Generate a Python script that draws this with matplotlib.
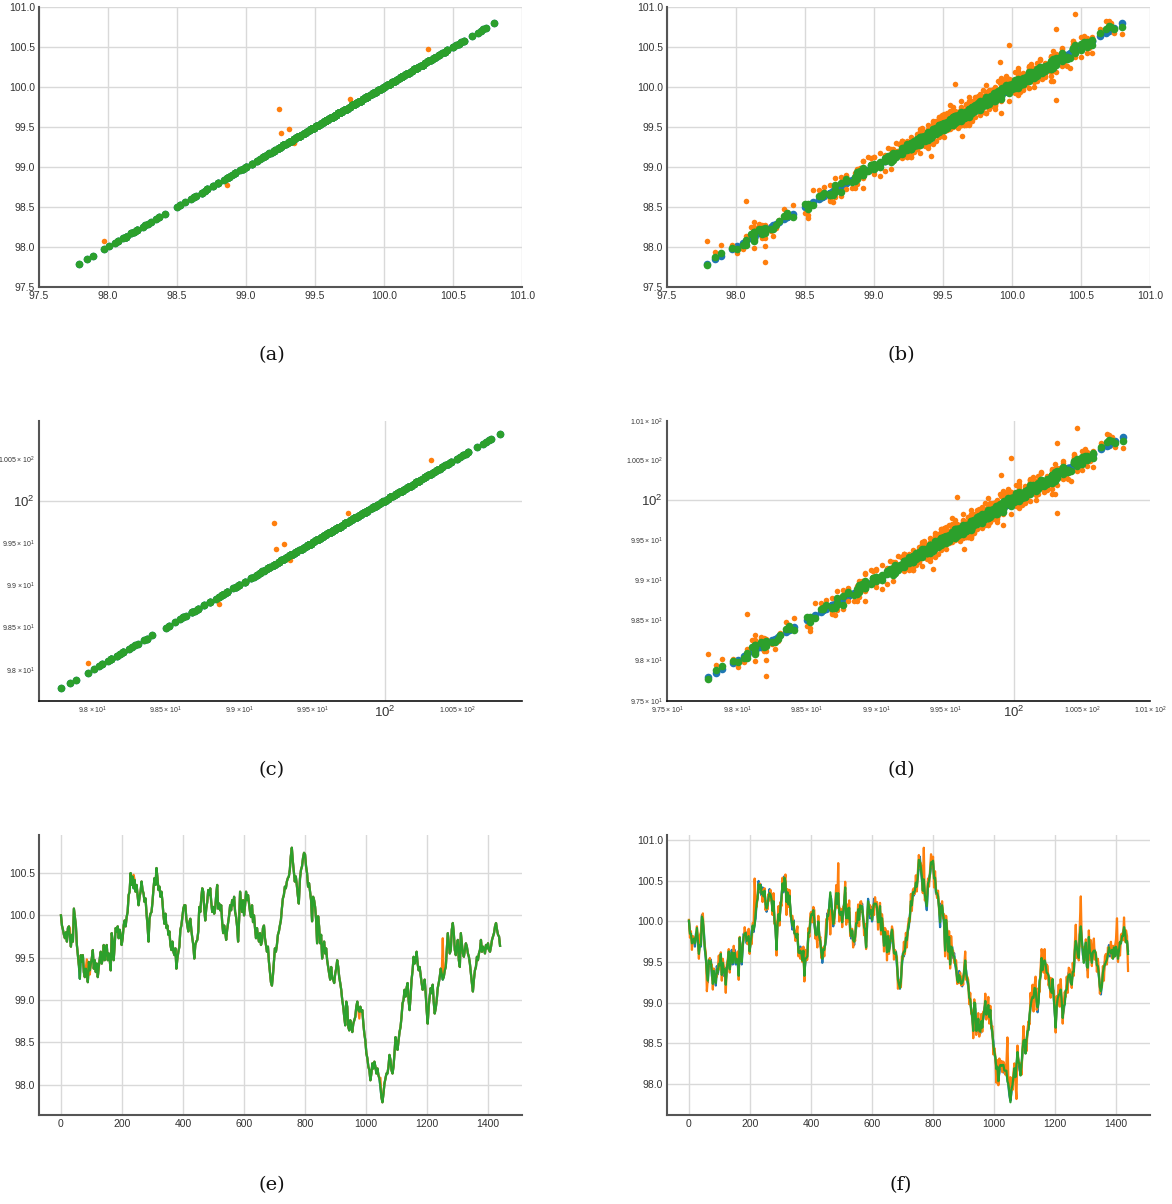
import numpy as np
import matplotlib
matplotlib.use("Agg")
import matplotlib.pyplot as plt
from matplotlib import ticker as mticker

# ---------------- data ----------------
# true series, part 1 (t = 0 .. 780)
true_seg1 = [
    100.00, 99.88, 99.83, 99.77, 99.73, 99.80, 99.69, 99.85, 99.87, 99.75,
    99.63, 99.77, 99.69, 100.08, 99.98, 99.88, 99.65, 99.53, 99.41, 99.25,
    99.53, 99.45, 99.53, 99.33, 99.27, 99.37, 99.31, 99.21, 99.45, 99.35,
    99.43, 99.49, 99.59, 99.37, 99.47, 99.33, 99.43, 99.27, 99.39, 99.49,
    99.57, 99.43, 99.49, 99.65, 99.47, 99.57, 99.65, 99.47, 99.55, 99.47,
    99.35, 99.79, 99.69, 99.47, 99.67, 99.85, 99.81, 99.87, 99.73, 99.83,
    99.77, 99.65, 99.73, 99.88, 99.94, 99.87, 99.98, 100.04, 100.24, 100.28,
    100.50, 100.36, 100.46, 100.32, 100.42, 100.28, 100.36, 100.24, 100.12, 100.22,
    100.28, 100.40, 100.30, 100.26, 100.16, 100.20, 100.02, 99.88, 99.69, 99.96,
    100.02, 100.04, 100.16, 100.32, 100.44, 100.36, 100.56, 100.44, 100.30, 100.34,
    100.22, 100.28, 100.16, 100.00, 99.90, 100.02, 99.85, 99.88, 99.77, 99.81,
    99.65, 99.59, 99.69, 99.57, 99.53, 99.61, 99.37, 99.49, 99.57, 99.63,
    99.83, 99.88, 99.98, 100.08, 100.12, 100.12, 99.96, 99.88, 99.81, 99.92,
    99.96, 99.83, 99.73, 99.65, 99.49, 99.65, 99.69, 99.71, 99.81, 100.10,
    100.04, 100.20, 100.32, 100.28, 100.08, 99.94, 100.08, 100.16, 100.30, 100.24,
    100.32, 100.16, 100.04, 100.10, 100.02, 100.08, 100.24, 100.36, 100.08, 100.14,
    100.06, 100.12, 99.92, 99.79, 99.88, 99.81, 99.71, 99.83, 99.92, 100.00,
    100.12, 100.06, 100.18, 100.12, 100.22, 100.04, 99.98, 99.87, 99.69, 99.94,
    100.28, 100.14, 100.04, 100.18, 100.00, 100.12, 100.28, 100.18, 100.24, 100.14,
    100.04, 99.98, 100.12, 99.92, 100.00, 99.85, 99.73, 99.85, 99.75, 99.69,
    99.79, 99.65, 99.69, 99.85, 99.88, 99.73, 99.65, 99.57, 99.63, 99.45,
    99.33, 99.21, 99.17, 99.29, 99.45, 99.61, 99.57, 99.65, 99.77, 99.81,
    99.88, 99.94, 100.08, 100.20, 100.24, 100.34, 100.32, 100.40, 100.44, 100.46,
    100.54, 100.70, 100.80, 100.64, 100.52, 100.40, 100.46, 100.36, 100.24, 100.14,
]
# true series, part 2 (t = 784 .. 1440)
true_seg2 = [
    100.44, 100.54, 100.58, 100.68, 100.74, 100.72, 100.58, 100.50, 100.34, 100.38,
    100.28, 100.18, 99.93, 100.22, 100.18, 100.10, 99.95, 99.67, 99.99, 99.87,
    99.67, 99.77, 99.49, 99.63, 99.69, 99.55, 99.61, 99.47, 99.39, 99.31,
    99.24, 99.39, 99.27, 99.24, 99.20, 99.31, 99.37, 99.47, 99.39, 99.27,
    99.20, 99.12, 99.00, 98.92, 98.80, 98.70, 98.98, 98.92, 98.68, 98.64,
    98.76, 98.68, 98.62, 98.72, 98.76, 98.80, 98.92, 98.98, 98.88, 98.86,
    98.92, 98.86, 98.88, 98.72, 98.60, 98.52, 98.37, 98.31, 98.21, 98.17,
    98.05, 98.13, 98.25, 98.19, 98.27, 98.21, 98.13, 98.19, 98.11, 98.07,
    97.97, 97.85, 97.79, 97.89, 98.01, 98.07, 98.13, 98.13, 98.21, 98.35,
    98.29, 98.17, 98.13, 98.21, 98.37, 98.56, 98.50, 98.41, 98.52, 98.62,
    98.68, 98.80, 98.96, 99.00, 99.12, 99.04, 99.14, 99.20, 99.00, 98.88,
    99.04, 99.24, 99.35, 99.51, 99.43, 99.47, 99.57, 99.43, 99.35, 99.39,
    99.29, 99.20, 99.12, 99.16, 99.24, 99.08, 98.88, 98.72, 98.92, 99.04,
    99.14, 99.08, 99.18, 98.98, 98.84, 98.90, 99.00, 99.14, 99.20, 99.27,
    99.37, 99.31, 99.24, 99.27, 99.35, 99.39, 99.59, 99.79, 99.67, 99.55,
    99.59, 99.83, 99.91, 99.79, 99.59, 99.53, 99.63, 99.71, 99.47, 99.39,
    99.79, 99.67, 99.55, 99.51, 99.59, 99.67, 99.63, 99.55, 99.51, 99.43,
    99.31, 99.20, 99.10, 99.24, 99.35, 99.39, 99.51, 99.47, 99.55, 99.59,
    99.71, 99.57, 99.63, 99.61, 99.55, 99.65, 99.61, 99.67, 99.59, 99.57,
    99.63, 99.71, 99.75, 99.79, 99.87, 99.91, 99.83, 99.77, 99.75, 99.64,
]
seg_times = [0, 780, 784, 1440]

# model A (panels a, c, e): orange deviates only at a few points
orange_a_idx = [9, 19, 26, 29, 73, 299, 320, 382]
orange_a_dev = [0.10, 0.18, 0.17, -0.05, 0.16, -0.08, 0.11, 0.49]

# model B (panels b, d, f): deviations in hundredths
orange_b_dev1 = [
    2, -8, 5, -12, 9, -4, 11, -6, 7, 3, -9, 6, 18, -5, 12, -10, 4, 8, -27, 6,
    -3, 10, -7, 14, -11, 5, -2, 9, -13, 6, 15, -8, 3, -10, 7, 12, -5, -15, 8, 4,
    9, -6, 11, -9, 5, 13, -12, 7, -4, 16, -7, 2, -14, 10, 6, -8, 12, -3, 9, -11,
    14, -5, 8, -16, 4, 10, 55, 20, -6, 3, -12, 11, -4, 7, -18, 9, 5, -10, 13, -7,
    6, -14, 9, 3, -8, 15, -5, 12, -11, 4, 17, -9, 8, -13, 10, 5, -7, 14, -22, 6,
    -4, 11, -10, 7, 17, -6, 3, -12, 9, 13, -8, 5, -15, 10, -3, 8, -11, 16, -5, -10,
    9, -7, 12, 4, -13, 6, 18, -9, 5, -24, 11, -6, 8, -10, 14, 3, -12, 7, 22, -8,
    10, -5, -48, -14, 6, 9, -11, 4, 15, -7, 40, -16, 12, 5, -9, 10, -4, 13, -12, 7,
    -6, 14, -10, 8, 3, -13, 11, -7, 19, -5, 9, -12, 6, 13, -8, 4, -15, 10, -3, 12,
    -9, 7, 16, -11, 5, 8, -20, 12, -6, 10, -14, 6, 11, -8, 9, 11, -10, 7, 14, -17,
    9, -5, 13, -9, 6, 15, -12, 8, -4, 11, -16, 7, 3, -10, 12, -7, 18, -5, 9, -13,
    6, 10, -8, 14, -11, 5, 9, -6, 13, -9, 7, 12, -14, 8, 12, -5, 45, -10, 6, 15,
]
orange_b_dev2 = [
    9, -11, 4, 15, -7, 8, -16, 12, 5, -9, 10, -4, 13, -12, 7, -6, 14, -10, 8, 3,
    -13, 11, -7, 19, -5, 9, -12, 6, 13, -8, 4, -15, 10, -3, 12, -9, 7, 16, -11, 5,
    8, -14, 12, -6, 10, -14, 6, -18, -8, 11, 11, -10, 7, 14, -12, 9, -5, 13, -9, 6,
    15, -12, 8, -4, 11, -16, 7, 3, -20, 12, -7, 18, -5, 9, -13, 6, 10, -8, 14, 50,
    5, 9, 29, 13, -9, 7, 12, -14, -40, 12, -5, 9, 10, -10, 6, 15, -8, 11, -12, 5,
    9, -7, 16, -4, 10, -15, 7, 12, -9, 6, 14, -11, 8, 15, 13, -10, 9, -14, 12, 6,
    -8, 11, -6, 14, -12, 7, 10, -9, 16, -5, 8, -13, 11, 6, -10, 9, 13, -7, 12, -15,
    6, 10, 8, -9, 14, -6, 11, 17, -12, 8, -7, 13, 40, -10, 9, 15, -11, 7, 12, -8,
    10, -14, 22, -6, 9, 12, -10, 7, -13, 11, 8, -9, 14, -5, 10, -12, 6, 13, -8, 9,
    -11, 7, 12, -6, 15, -9, 8, 11, 45, -7, 10, -13, 9, 6, -10, 14, -8, 12, 7, -25,
]
green_b_dev1 = [
    1, -3, 2, -4, 3, -1, 4, -2, 5, 1, -3, -6, 2, -2, 4, -3, 1, 3, -5, 2,
    -1, 3, -2, 5, -4, 2, -1, 3, -4, 2, 5, -3, 1, -3, 2, 4, -2, -5, 3, 1,
    6, -2, 4, -3, 2, 4, -4, 2, -1, 5, -2, 1, -5, 3, 2, -3, 4, -1, 3, -4,
    5, -2, 3, -5, 1, 3, -3, 6, -2, 1, -4, 4, -1, 2, -6, 3, 2, -3, 4, -2,
    2, -5, 3, 1, -3, 5, -2, 4, -4, 1, 7, -3, 3, -4, 3, 2, -2, 5, -6, 2,
    -1, 4, -3, 2, 5, -2, 1, -4, 3, 4, -3, 2, -5, 3, -1, 3, -4, 5, -2, -6,
    3, -2, 4, 1, -4, 2, 6, -3, 2, -7, 4, -2, 3, -3, 5, 1, -4, 2, 6, -3,
    3, -2, 4, -5, 2, 3, -4, 1, 5, -2, 3, -5, 4, 2, -3, 3, -1, 6, -4, 2,
    -2, 5, -3, 3, 1, -4, 4, -2, 6, -2, 3, -4, 2, 4, -3, 1, -5, 3, -1, 4,
    -3, 2, 5, -4, 2, 3, -6, 4, -2, 3, -5, 2, 7, -3, 4, 4, -3, 2, 5, -7,
    3, -2, 4, -3, 2, 5, -4, 3, -1, 4, -5, 2, 1, -3, 4, -2, 6, -2, 3, -4,
    2, 3, -3, 5, -4, 2, 3, -2, 4, -3, 2, 6, -5, 3, 4, -2, 6, -3, 2, 5,
]
green_b_dev2 = [
    3, -4, 1, 5, -2, 3, -5, 4, 2, -3, 3, -1, 6, -4, 2, -2, 5, -3, 3, 1,
    -4, 4, -2, 6, -2, 3, -4, 2, 4, -3, 1, -5, 3, -1, 4, -3, 2, 5, -4, 2,
    3, -6, 4, -2, 3, -5, 2, 7, -3, 4, 4, -3, 2, 5, -7, 3, -2, 4, -3, 2,
    5, -4, 3, -1, 4, -5, 2, 1, -3, 4, -2, 6, -2, 3, -4, 2, 3, -3, 5, -4,
    2, 3, -2, 4, -3, 2, 6, -5, 3, 4, -2, 6, -3, 2, 5, -3, 4, -4, 2, 3,
    -2, 5, -1, 3, -5, 2, 4, -3, 2, 6, -4, 3, -2, 4, -3, 3, -5, 4, 2, -3,
    4, -2, 3, -4, 5, -1, 2, -3, 4, 1, -5, 3, -2, 4, -3, 5, -2, 1, -4, 3,
    -3, 4, 2, -5, 3, -1, 5, -3, 2, 4, -4, 1, 3, -2, 5, -4, 2, 3, -3, 4,
    2, -4, 5, -2, 3, -3, 1, 4, -5, 2, 3, -1, 4, -3, 2, 5, -4, 3, -2, 1,
    -3, 5, -2, 4, -1, 3, -4, 2, 5, -3, 1, 4, -2, 3, -5, 2, 4, -3, 1, -4,
]

log_ticks = [97.5, 98.0, 98.5, 99.0, 99.5, 100.5, 101.0]
lin_ticks = [97.5, 98.0, 98.5, 99.0, 99.5, 100.0, 100.5, 101.0]
time_ticks = [0, 200, 400, 600, 800, 1000, 1200, 1400]
captions = ["(a)", "(b)", "(c)", "(d)", "(e)", "(f)"]

# ---------------- derived series ----------------
n1, n2 = len(true_seg1), len(true_seg2)
T = np.array(true_seg1 + true_seg2)
t = np.concatenate([np.linspace(seg_times[0], seg_times[1], n1),
                    np.linspace(seg_times[2], seg_times[3], n2)])
orange_a = T.copy()
orange_a[orange_a_idx] += np.array(orange_a_dev)
green_a = T.copy()
orange_b = T + np.array(orange_b_dev1[:n1] + orange_b_dev2[:n2]) / 100.0
green_b = T + np.array(green_b_dev1[:n1] + green_b_dev2[:n2]) / 100.0

BLUE, ORANGE, GREEN = "#1f77b4", "#ff7f0e", "#2ca02c"

plt.rcParams["font.family"] = ["Liberation Sans", "DejaVu Sans"]
fig = plt.figure(figsize=(11.72, 12.04), dpi=100)

W, H = 1172.0, 1204.0
def add_ax(left_px, top_px, w_px=483, h_px=280):
    return fig.add_axes([left_px / W, 1 - (top_px + h_px) / H, w_px / W, h_px / H])

lefts = [39, 667]
tops = [7, 421, 835]

def style(ax):
    ax.set_facecolor("white")
    for s in ["top", "right"]:
        ax.spines[s].set_visible(False)
    for s in ["left", "bottom"]:
        ax.spines[s].set_color("#555555")
        ax.spines[s].set_linewidth(1.5)
    ax.grid(True, which="major", color="#d9d9d9", linewidth=1.0)
    ax.set_axisbelow(True)
    ax.tick_params(which="both", length=0, labelsize=7.5, colors="#333333", pad=3)

def scatter(ax, o, g):
    ax.scatter(T, T, s=30, color=BLUE, linewidths=0, zorder=2)
    ax.scatter(T, o, s=16, color=ORANGE, linewidths=0, zorder=3)
    ax.scatter(T, g, s=30, color=GREEN, linewidths=0, zorder=4)

pairs = [(orange_a, green_a), (orange_b, green_b)]

# row 1: linear scatter
for col, (o, g) in enumerate(pairs):
    ax = add_ax(lefts[col], tops[0])
    style(ax)
    scatter(ax, o, g)
    ax.set_xlim(97.5, 101.0)
    ax.set_ylim(97.5, 101.0)
    ax.set_xticks(lin_ticks)
    ax.set_yticks(lin_ticks)
    ax.xaxis.set_major_formatter(mticker.FormatStrFormatter("%.1f"))
    ax.yaxis.set_major_formatter(mticker.FormatStrFormatter("%.1f"))

# row 2: log-log scatter
for col, (o, g) in enumerate(pairs):
    ax = add_ax(lefts[col], tops[1])
    style(ax)
    scatter(ax, o, g)
    ax.set_xscale("log")
    ax.set_yscale("log")
    if col == 1:
        ax.set_xlim(97.5, 101.0)
        ax.set_ylim(97.5, 101.0)
    for axis in (ax.xaxis, ax.yaxis):
        axis.set_minor_locator(mticker.FixedLocator(log_ticks))
        axis.set_minor_formatter(mticker.LogFormatterSciNotation(labelOnlyBase=False))
    ax.tick_params(which="minor", labelsize=5, colors="#333333")
    ax.tick_params(which="major", labelsize=9.5, colors="#333333")
    ax.spines["bottom"].set_color("#111111")
    ax.spines["bottom"].set_linewidth(1.2)

# row 3: time series
for col, (o, g) in enumerate(pairs):
    ax = add_ax(lefts[col], tops[2])
    style(ax)
    ax.plot(t, T, color=BLUE, linewidth=1.6, zorder=2)
    ax.plot(t, o, color=ORANGE, linewidth=1.6, zorder=3)
    ax.plot(t, g, color=GREEN, linewidth=1.6, zorder=4)
    ax.set_xticks(time_ticks)
    ax.yaxis.set_major_locator(mticker.MultipleLocator(0.5))
    ax.yaxis.set_major_formatter(mticker.FormatStrFormatter("%.1f"))

# captions
cap_x = [272 / W, 901 / W]
cap_y = [1 - 355 / H, 1 - 770 / H, 1 - 1185 / H]
for i, c in enumerate(captions):
    fig.text(cap_x[i % 2], cap_y[i // 2], c, ha="center", va="center",
             fontsize=14, family=["DejaVu Serif"], color="#111111")

fig.savefig("out.png", dpi=100, facecolor="white")
